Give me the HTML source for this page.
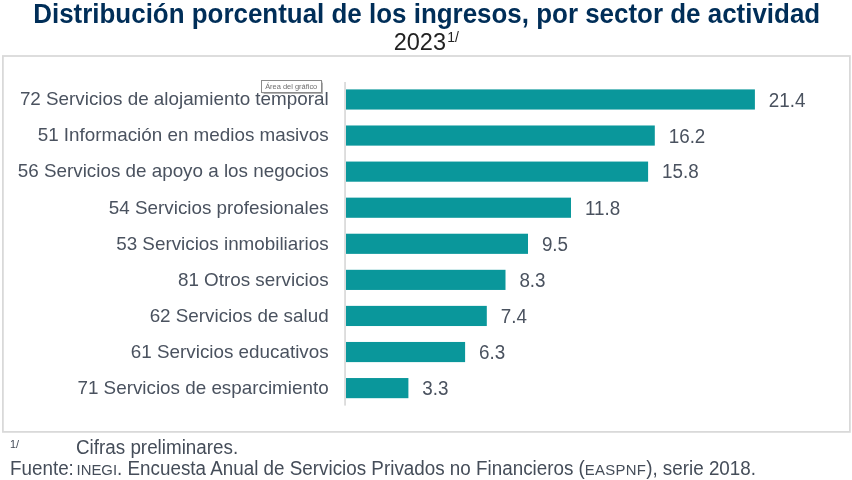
<!DOCTYPE html>
<html lang="es"><head><meta charset="utf-8"><title>Distribución porcentual de los ingresos</title>
<style>
html,body{margin:0;padding:0;background:#fff;}
body{width:852px;height:480px;position:relative;overflow:hidden;font-family:"Liberation Sans",Arial,sans-serif;}
.title{position:absolute;left:0;width:853.4px;top:-1.5px;text-align:center;font-weight:bold;font-size:25.94px;line-height:30px;color:#002e58;white-space:nowrap;transform:scaleY(1.03);transform-origin:0 24px;}
.sub{position:absolute;left:0;width:852.6px;top:27.6px;text-align:center;font-size:23.5px;line-height:28px;color:#222;white-space:nowrap;}
.sub sup{font-size:14px;vertical-align:baseline;position:relative;top:-7.8px;margin-left:1.2px;line-height:0;}
.boxs{position:absolute;left:0;top:0;}
.cat{position:absolute;right:523.4px;height:30px;line-height:30px;font-size:18.83px;color:#4a525f;white-space:nowrap;text-align:right;}
.val{position:absolute;height:30px;line-height:30px;font-size:18.83px;color:#4a525f;white-space:nowrap;transform:scaleY(1.03);transform-origin:0 21.5px;}
.tip{position:absolute;left:260.7px;top:79.9px;width:59px;height:11.6px;border:0.8px solid #8a8a8a;background:#fff;box-shadow:1.2px 1.2px 1px rgba(0,0,0,0.3);font-size:7.45px;line-height:12.4px;color:#6e6e6e;text-align:center;white-space:nowrap;}
.f1n{position:absolute;left:10px;top:437.8px;font-size:10.8px;line-height:12px;color:#454d59;}
.f1{position:absolute;left:76px;top:435.60px;font-size:18.83px;line-height:24px;color:#454d59;white-space:nowrap;transform:scaleY(1.03);transform-origin:0 18.5px;}
.f2{position:absolute;left:10px;top:457.20px;font-size:18.83px;line-height:24px;color:#454d59;white-space:nowrap;transform:scaleY(1.03);transform-origin:0 18.5px;}
.sc{font-size:14.9px;}
.fu{display:inline-block;width:66.5px;}
</style></head><body>
<div class="title">Distribución porcentual de los ingresos, por sector de actividad</div>
<div class="sub">2023<sup>1/</sup></div>
<svg class="boxs" width="852" height="480" viewBox="0 0 852 480"><rect x="2.9" y="56" width="847" height="375.9" fill="#fff" stroke="#d9d9d9" stroke-width="1.75"/><rect x="344.2" y="82" width="1.7" height="323.6" fill="#d9d9d9"/><rect x="346.0" y="89.40" width="408.90" height="20.15" fill="#0a979b"/><rect x="346.0" y="125.48" width="308.80" height="20.15" fill="#0a979b"/><rect x="346.0" y="161.56" width="302.10" height="20.15" fill="#0a979b"/><rect x="346.0" y="197.64" width="225.00" height="20.15" fill="#0a979b"/><rect x="346.0" y="233.72" width="182.00" height="20.15" fill="#0a979b"/><rect x="346.0" y="269.80" width="159.50" height="20.15" fill="#0a979b"/><rect x="346.0" y="305.88" width="140.80" height="20.15" fill="#0a979b"/><rect x="346.0" y="341.96" width="119.10" height="20.15" fill="#0a979b"/><rect x="346.0" y="378.04" width="62.40" height="20.15" fill="#0a979b"/></svg>
<div class="cat" style="top:83.50px">72 Servicios de alojamiento temporal</div>
<div class="val" style="top:85.50px;left:768.80px">21.4</div>
<div class="cat" style="top:119.50px">51 Información en medios masivos</div>
<div class="val" style="top:121.50px;left:668.70px">16.2</div>
<div class="cat" style="top:155.50px">56 Servicios de apoyo a los negocios</div>
<div class="val" style="top:156.50px;left:662.00px">15.8</div>
<div class="cat" style="top:192.50px">54 Servicios profesionales</div>
<div class="val" style="top:193.50px;left:584.90px">11.8</div>
<div class="cat" style="top:228.50px">53 Servicios inmobiliarios</div>
<div class="val" style="top:229.50px;left:541.90px">9.5</div>
<div class="cat" style="top:264.50px">81 Otros servicios</div>
<div class="val" style="top:265.50px;left:519.40px">8.3</div>
<div class="cat" style="top:300.50px">62 Servicios de salud</div>
<div class="val" style="top:301.50px;left:500.70px">7.4</div>
<div class="cat" style="top:336.50px">61 Servicios educativos</div>
<div class="val" style="top:337.50px;left:479.00px">6.3</div>
<div class="cat" style="top:372.50px">71 Servicios de esparcimiento</div>
<div class="val" style="top:373.50px;left:422.30px">3.3</div>
<div class="tip">Área del gráfico</div>
<div class="f1n">1/</div>
<div class="f1">Cifras preliminares.</div>
<div class="f2"><span class="fu">Fuente:</span><span class="sc">INEGI</span>. Encuesta Anual de Servicios Privados no Financieros (<span class="sc" style="letter-spacing:0.28px">EASPNF</span>), serie 2018.</div>
</body></html>
